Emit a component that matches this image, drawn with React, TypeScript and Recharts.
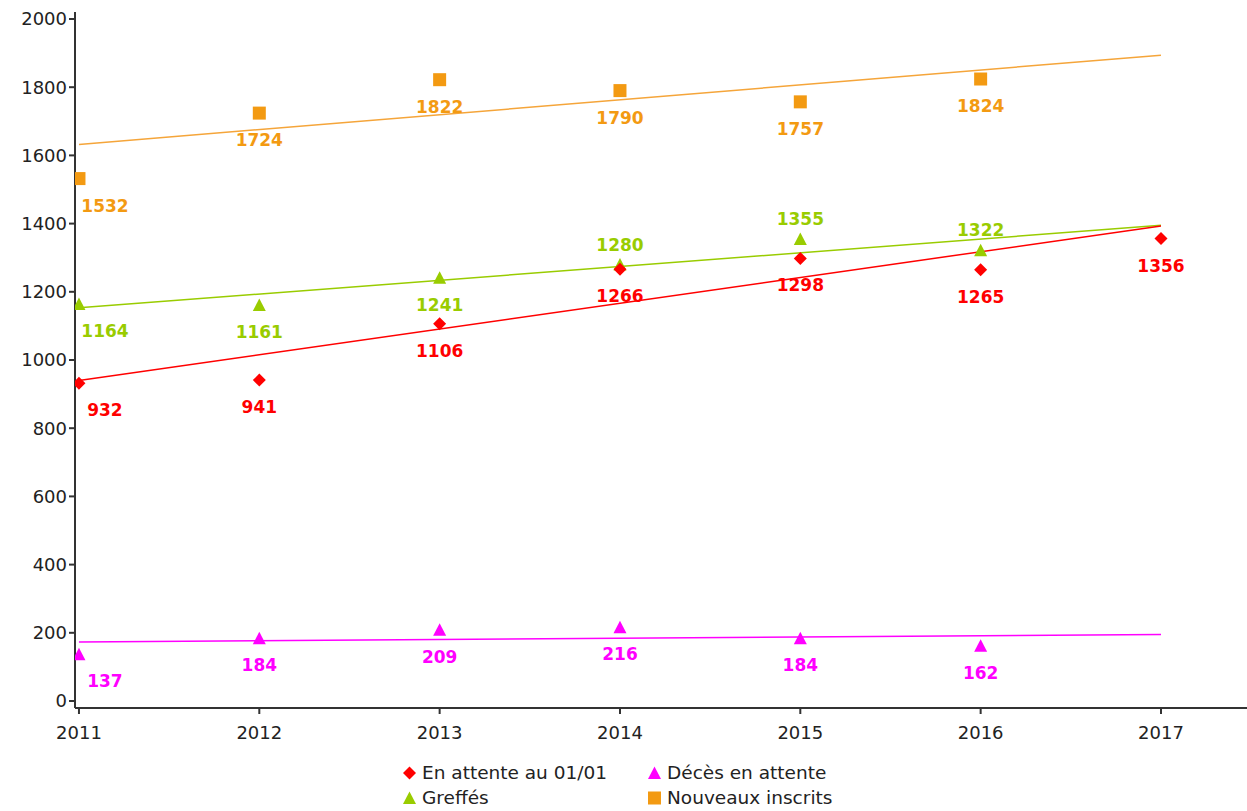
import React from 'react';
import { ComposedChart, Line, Scatter, XAxis, YAxis } from 'recharts';

// values
const years = [2011, 2012, 2013, 2014, 2015, 2016];
const yearsWithLast = [2011, 2012, 2013, 2014, 2015, 2016, 2017];
const enAttente = [932, 941, 1106, 1266, 1298, 1265, 1356];
const deces = [137, 184, 209, 216, 184, 162];
const greffes = [1164, 1161, 1241, 1280, 1355, 1322];
const nouveaux = [1532, 1724, 1822, 1790, 1757, 1824];
const greffesLabelAbove = [false, false, false, true, true, true];

// trend line ends (2011 -> 2017)
const trendYears = [2011, 2017];
const trendEnAttente = [940, 1393];
const trendGreffes = [1153, 1395];
const trendDeces = [173, 195];
const trendNouveaux = [1632, 1894];

const yTicks = [0, 200, 400, 600, 800, 1000, 1200, 1400, 1600, 1800, 2000];
const xTicks = [2011, 2012, 2013, 2014, 2015, 2016, 2017];

const RED = '#ff0000';
const MAGENTA = '#ff00ff';
const GREEN = '#99cc00';
const ORANGE = '#f39a12';
const ORANGE_LINE = '#f5a53a';

const FONT = '"DejaVu Sans", sans-serif';

const points = (xs: number[], ys: number[], above?: boolean[]) =>
  ys.map((y, i) => ({ x: xs[i], y, i, above: above ? above[i] : false }));

const trend = (ys: number[]) => trendYears.map((x, i) => ({ x, y: ys[i] }));

type Kind = 'diamond' | 'triangle' | 'square';

const marker = (kind: Kind, cx: number, cy: number, color: string) => {
  if (kind === 'diamond') {
    return <polygon points={`${cx},${cy - 6.5} ${cx + 6.5},${cy} ${cx},${cy + 6.5} ${cx - 6.5},${cy}`} fill={color} />;
  }
  if (kind === 'triangle') {
    return <polygon points={`${cx},${cy - 6.5} ${cx + 6.5},${cy + 6} ${cx - 6.5},${cy + 6}`} fill={color} />;
  }
  return <rect x={cx - 6.5} y={cy - 6.5} width={13} height={13} fill={color} />;
};

const makeShape = (kind: Kind, color: string) => (props: any) => {
  const { cx, cy, payload } = props;
  if (cx == null || cy == null) return <g />;
  const tx = payload.i === 0 ? cx + 26 : cx;
  const ty = payload.above ? cy - 14 : cy + 33;
  return (
    <g>
      {marker(kind, cx, cy, color)}
      <text x={tx} y={ty} textAnchor="middle" fill={color} fontFamily={FONT} fontSize={17} fontWeight="bold">
        {payload.y}
      </text>
    </g>
  );
};

const LegendItem = ({ kind, color, label }: { kind: Kind; color: string; label: string }) => (
  <div style={{ display: 'flex', alignItems: 'center', height: 25 }}>
    <svg width={14} height={14} style={{ marginRight: 5 }}>
      {marker(kind, 6.5, 7, color)}
    </svg>
    <span>{label}</span>
  </div>
);

export default function App() {
  return (
    <div style={{ position: 'absolute', left: 0, top: 0, width: 1247, height: 811, background: '#fff' }}>
      <ComposedChart width={1247} height={811} margin={{ top: 12, right: 0, left: 0, bottom: 73 }}>
        <XAxis
          dataKey="x"
          type="number"
          domain={[2010.978, 2017.477]}
          ticks={xTicks}
          allowDataOverflow
          stroke="#333"
          strokeWidth={2}
          tickSize={6}
          height={30}
          tick={{ fill: '#222', fontSize: 18, fontFamily: FONT, dy: 10 }}
        />
        <YAxis
          dataKey="y"
          type="number"
          width={75}
          domain={[-20.5, 2020.5]}
          ticks={yTicks}
          allowDataOverflow
          stroke="#333"
          strokeWidth={2}
          tickSize={6}
          tick={{ fill: '#222', fontSize: 18, fontFamily: FONT }}
        />
        <Line data={trend(trendNouveaux)} dataKey="y" stroke={ORANGE_LINE} strokeWidth={1.5} dot={false} isAnimationActive={false} />
        <Line data={trend(trendGreffes)} dataKey="y" stroke={GREEN} strokeWidth={1.5} dot={false} isAnimationActive={false} />
        <Line data={trend(trendEnAttente)} dataKey="y" stroke={RED} strokeWidth={1.5} dot={false} isAnimationActive={false} />
        <Line data={trend(trendDeces)} dataKey="y" stroke={MAGENTA} strokeWidth={1.5} dot={false} isAnimationActive={false} />
        <Scatter data={points(years, nouveaux)} shape={makeShape('square', ORANGE)} isAnimationActive={false} />
        <Scatter data={points(years, greffes, greffesLabelAbove)} shape={makeShape('triangle', GREEN)} isAnimationActive={false} />
        <Scatter data={points(yearsWithLast, enAttente)} shape={makeShape('diamond', RED)} isAnimationActive={false} />
        <Scatter data={points(years, deces)} shape={makeShape('triangle', MAGENTA)} isAnimationActive={false} />
      </ComposedChart>
      <div
        style={{
          position: 'absolute',
          left: 403,
          top: 760,
          display: 'grid',
          gridTemplateColumns: '245px 200px',
          fontFamily: FONT,
          fontSize: 18.5,
          color: '#222',
        }}
      >
        <LegendItem kind="diamond" color={RED} label="En attente au 01/01" />
        <LegendItem kind="triangle" color={MAGENTA} label="Décès en attente" />
        <LegendItem kind="triangle" color={GREEN} label="Greffés" />
        <LegendItem kind="square" color={ORANGE} label="Nouveaux inscrits" />
      </div>
    </div>
  );
}
